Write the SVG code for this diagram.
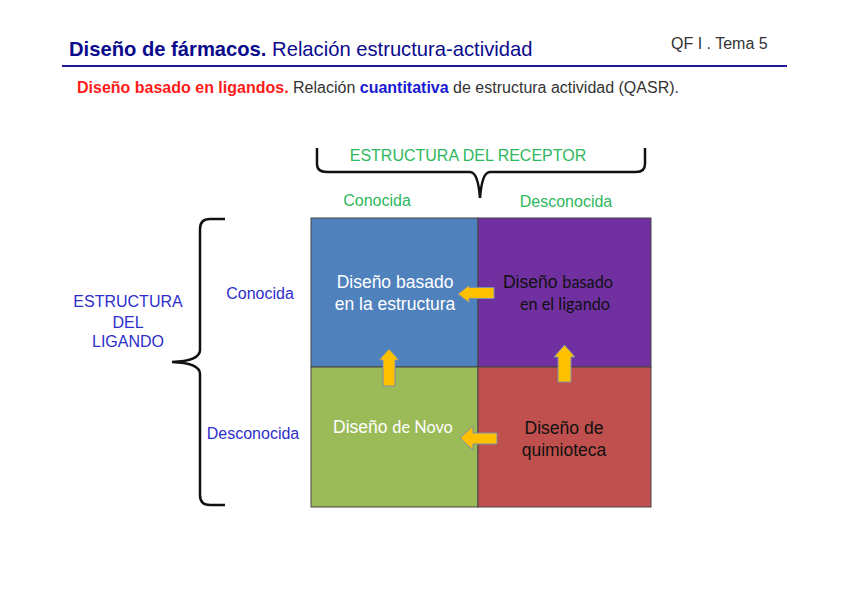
<svg xmlns="http://www.w3.org/2000/svg" width="848" height="599" viewBox="0 0 848 599">
<style>
text{font-family:"Liberation Sans",Arial,sans-serif}
.g{fill:#2EB85C;font-size:16px}
.b{fill:#2E2ECC;font-size:16px}
.w{fill:#FFFFFF;font-size:17.5px}
.k{fill:#111111;font-size:17.5px}
.c{font-family:Lato,"Open Sans",sans-serif;font-size:16.3px}
.br{fill:none;stroke:#111;stroke-width:2.5}
.ar{fill:#FFC000;stroke:#7F8FA8;stroke-width:1}
.cell{stroke:#444;stroke-width:1}
</style>
<rect width="848" height="599" fill="#fff"/>
<g id="header">
<text x="69" y="56" font-size="20.2" fill="#0A0A8C"><tspan font-weight="bold">Diseño de fármacos.</tspan> Relación estructura-actividad</text>
<text x="671" y="49" font-size="16" fill="#333">QF I . Tema 5</text>
<line x1="62" y1="66" x2="787" y2="66" stroke="#1A1A99" stroke-width="2"/>
<text x="77" y="93" font-size="16" fill="#333"><tspan fill="#FF1A1A" font-weight="bold">Diseño basado en ligandos.</tspan> Relación <tspan fill="#1A1AD0" font-weight="bold">cuantitativa</tspan> de estructura actividad (QASR).</text>
</g>
<g id="receptor-label">
<path class="br" d="M317,148 L317,164 Q317,172 327,172 L470,172 Q478,172 480,198 Q482,172 490,172 L636,172 Q645,172 645,164 L645,148"/>
<text class="g" x="468" y="161" text-anchor="middle">ESTRUCTURA DEL RECEPTOR</text>
<text class="g" x="377" y="206" text-anchor="middle">Conocida</text>
<text class="g" x="566" y="207" text-anchor="middle">Desconocida</text>
</g>
<g id="ligand-label">
<path class="br" d="M225,219 L210,219 Q200,219 200,229 L200,350 Q200,361 172,362 Q200,363 200,374 L200,495 Q200,505 210,505 L225,505"/>
<text class="b" x="128" y="307" text-anchor="middle">ESTRUCTURA</text>
<text class="b" x="128" y="328" text-anchor="middle">DEL</text>
<text class="b" x="128" y="347" text-anchor="middle">LIGANDO</text>
<text class="b" x="260" y="299" text-anchor="middle">Conocida</text>
<text class="b" x="253" y="439" text-anchor="middle">Desconocida</text>
</g>
<g id="cell-structure">
<rect class="cell" x="311" y="218" width="167" height="149" fill="#4F81BD"/>
<text class="w" x="395" y="288" text-anchor="middle">Diseño basado</text>
<text class="w" x="395" y="310" text-anchor="middle">en la estructura</text>
</g>
<g id="cell-ligand">
<rect class="cell" x="478" y="218" width="173" height="149" fill="#7030A0"/>
<text class="k" x="558" y="288" text-anchor="middle">Diseño <tspan class="c">basado</tspan></text>
<text class="k c" x="565" y="310" text-anchor="middle">en el ligando</text>
</g>
<g id="cell-novo">
<rect class="cell" x="311" y="367" width="167" height="140" fill="#9BBB59"/>
<text class="w" x="333" y="433">Diseño <tspan class="c">de Novo</tspan></text>
</g>
<g id="cell-quimioteca">
<rect class="cell" x="478" y="367" width="173" height="140" fill="#C0504D"/>
<text class="k" x="564" y="434" text-anchor="middle">Diseño de</text>
<text class="k" x="564" y="456" text-anchor="middle">quimioteca</text>
</g>
<g id="connectors">
<path class="ar" d="M494,287.5 L469,287.5 L469,285.5 L458,294 L469,302.5 L469,298.5 L494,298.5 Z"/>
<path class="ar" d="M497,433 L473,433 L473,426 L460,438 L473,450 L473,444 L497,444 Z"/>
<path class="ar" d="M383,386 L383,360 L379,360 L389,349 L399,360 L395,360 L395,386 Z"/>
<path class="ar" d="M558,382 L558,357 L554,357 L564.5,345 L575,357 L571,357 L571,382 Z"/>
</g>
</svg>
